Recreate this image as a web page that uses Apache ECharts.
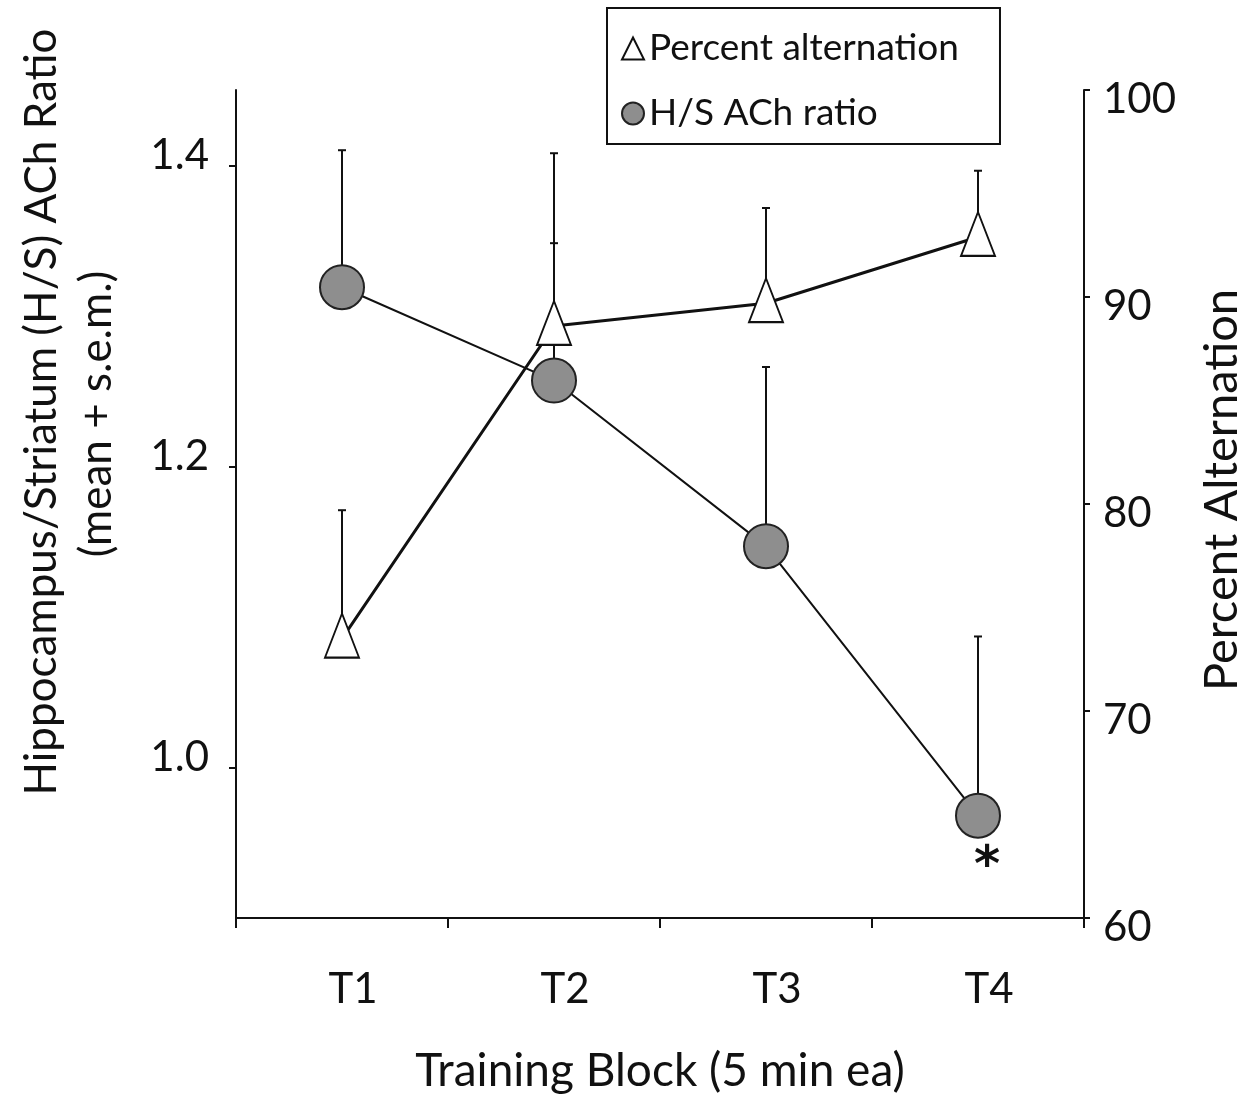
<!DOCTYPE html>
<html>
<head>
<meta charset="utf-8">
<script src="https://cdn.jsdelivr.net/npm/echarts@6/dist/echarts.min.js"></script>
<style>
html,body{margin:0;padding:0;background:#fff;}
#chart{width:1256px;height:1098px;}
</style>
</head>
<body>
<div id="chart"></div>
<script>
// ---- data ----
const categories = ['T1', 'T2', 'T3', 'T4'];
const hsRatio = [1.319, 1.257, 1.147, 0.968];
const hsRatioErrTop = [1.410, 1.408, 1.266, 1.087];
const pctAlt = [73.5, 88.6, 89.7, 92.9];
const pctAltErrTop = [79.7, 92.6, 94.3, 96.1];
const leftTicks = [1.0, 1.2, 1.4];
const rightTicks = [60, 70, 80, 90, 100];
const seriesNames = ['Percent alternation', 'H/S ACh ratio'];
const starLabel = '*';

const FONT = 'Lato';
const INK = '#111';

const chart = echarts.init(document.getElementById('chart'), null, {renderer: 'canvas'});

function errorBarRenderer(lw) {
  return function (params, api) {
    const p = api.coord([api.value(0), api.value(1)]);
    const t = api.coord([api.value(0), api.value(2)]);
    return {
      type: 'group',
      children: [
        {type: 'line', shape: {x1: p[0], y1: p[1], x2: t[0], y2: t[1]}, style: {stroke: INK, lineWidth: lw}},
        {type: 'line', shape: {x1: t[0] - 4, y1: t[1], x2: t[0] + 4, y2: t[1]}, style: {stroke: INK, lineWidth: 2}}
      ]
    };
  };
}

const hsData = hsRatio.map((v, i) => i === 3
  ? {value: v, label: {show: true, formatter: starLabel, position: 'bottom', distance: 2, offset: [9, 2], fontFamily: 'DejaVu Sans', fontWeight: 'bold', fontSize: 50, lineHeight: 50, color: INK}}
  : v);

const option = {
  animation: false,
  backgroundColor: '#fff',
  grid: {left: 236, right: 172, top: 90, bottom: 180, containLabel: false, outerBoundsMode: 'none'},
  legend: {
    orient: 'vertical',
    left: 607,
    top: 8,
    padding: [22, 41, 12, 14],
    itemGap: 28,
    itemWidth: 22,
    itemHeight: 22,
    itemTextGap: 8,
    borderColor: INK,
    borderWidth: 2,
    textStyle: {fontFamily: FONT, fontSize: 37, color: INK},
    data: [
      {name: seriesNames[0], icon: 'triangle'},
      {name: seriesNames[1], icon: 'circle'}
    ]
  },
  xAxis: {
    type: 'category',
    data: categories,
    boundaryGap: true,
    name: 'Training Block (5 min ea)',
    nameLocation: 'middle',
    nameGap: 130,
    nameTextStyle: {fontFamily: FONT, fontSize: 46, color: INK},
    axisLine: {lineStyle: {color: INK, width: 2}},
    axisTick: {show: true, alignWithLabel: false, length: 10, lineStyle: {color: INK, width: 2}},
    axisLabel: {fontFamily: FONT, fontSize: 42, color: INK, margin: 50, padding: [0, 0, 0, 22]},
    splitLine: {show: false}
  },
  yAxis: [
    {
      type: 'value',
      min: 0.9,
      max: 1.45,
      position: 'left',
      axisLine: {show: true, lineStyle: {color: INK, width: 2}},
      axisTick: {show: true, length: 7, customValues: leftTicks, lineStyle: {color: INK, width: 2}},
      axisLabel: {customValues: leftTicks, formatter: v => v.toFixed(1), fontFamily: FONT, fontSize: 42, color: INK, margin: 27, verticalAlign: 'bottom', lineHeight: 20},
      splitLine: {show: false}
    },
    {
      type: 'value',
      min: 60,
      max: 100,
      position: 'right',
      axisLine: {show: true, lineStyle: {color: INK, width: 2}},
      axisTick: {show: true, length: 6, customValues: rightTicks, lineStyle: {color: INK, width: 2}},
      axisLabel: {customValues: rightTicks, fontFamily: FONT, fontSize: 42, color: INK, margin: 19, verticalAlign: 'top', lineHeight: 18},
      splitLine: {show: false}
    }
  ],
  graphic: [
    {type: 'text', x: 42, y: 412, rotation: Math.PI / 2,
      style: {text: 'Hippocampus/Striatum (H/S) ACh Ratio', fontFamily: FONT, fontSize: 44, fill: INK, align: 'center', verticalAlign: 'middle', textAlign: 'center', textVerticalAlign: 'middle'}},
    {type: 'text', x: 97, y: 414, rotation: Math.PI / 2,
      style: {text: '(mean + s.e.m.)', fontFamily: FONT, fontSize: 44, fill: INK, align: 'center', verticalAlign: 'middle', textAlign: 'center', textVerticalAlign: 'middle'}},
    {type: 'text', x: 1222, y: 490, rotation: Math.PI / 2,
      style: {text: 'Percent Alternation', fontFamily: FONT, fontSize: 47, fill: INK, align: 'center', verticalAlign: 'middle', textAlign: 'center', textVerticalAlign: 'middle'}}
  ],
  series: [
    {
      name: 'hsErr',
      type: 'custom',
      yAxisIndex: 0,
      z: 1,
      silent: true,
      renderItem: errorBarRenderer(2),
      encode: {x: 0, y: [1, 2]},
      data: hsRatio.map((v, i) => [i, v, hsRatioErrTop[i]])
    },
    {
      name: 'pctErr',
      type: 'custom',
      yAxisIndex: 1,
      z: 1,
      silent: true,
      renderItem: errorBarRenderer(2),
      encode: {x: 0, y: [1, 2]},
      data: pctAlt.map((v, i) => [i, v, pctAltErrTop[i]])
    },
    {
      name: seriesNames[1],
      type: 'line',
      yAxisIndex: 0,
      z: 2,
      data: hsData,
      symbol: 'circle',
      symbolSize: 44,
      lineStyle: {color: INK, width: 2},
      itemStyle: {color: '#8e8e8e', borderColor: '#222', borderWidth: 2}
    },
    {
      name: seriesNames[0],
      type: 'line',
      yAxisIndex: 1,
      z: 3,
      data: pctAlt,
      symbol: 'triangle',
      symbolSize: [34, 44],
      symbolOffset: [0, -3],
      lineStyle: {color: INK, width: 3},
      itemStyle: {color: '#fff', borderColor: INK, borderWidth: 2}
    }
  ]
};

chart.setOption(option);
</script>
</body>
</html>
